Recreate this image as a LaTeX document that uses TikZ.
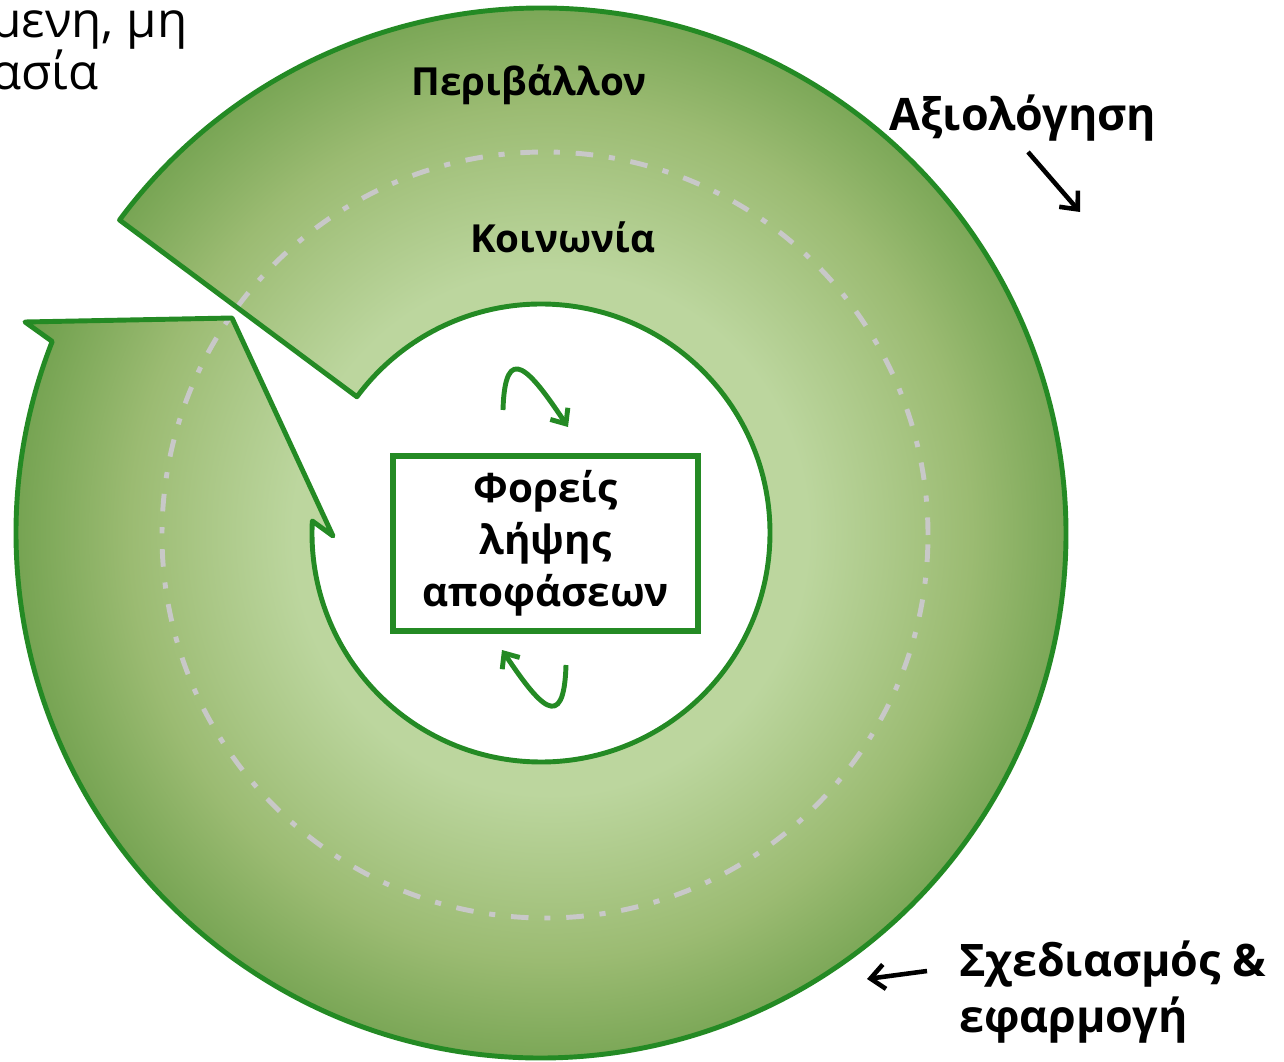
\documentclass[tikz,border=0pt]{standalone}
\usepackage{fontspec}
\setmainfont{Open Sans}
\usetikzlibrary{arrows.meta,positioning}

\definecolor{ringgreen}{HTML}{248A24}
\definecolor{ringlight}{HTML}{BCD69E}
\definecolor{ringmid}{HTML}{9BBB72}
\definecolor{ringdark}{HTML}{659944}
\definecolor{dashgray}{HTML}{C8C8C8}

% 25bp is the edge of the path's bounding box
\pgfdeclareradialshading{ringshade}{\pgfpoint{0bp}{0bp}}{color(0bp)=(ringlight); color(11bp)=(ringlight); color(18bp)=(ringmid); color(25bp)=(ringdark); color(50bp)=(ringdark)}

% the cycle arrow: outer arc, head, inner arc back to the tail
\newcommand{\ringpath}{(143.4:525) arc[start angle=143.4, end angle=-201.4, radius=525]
  -- (-516,211) -- (-309,215) -- (-208,-3) -- (-183:229)
  arc[start angle=-183, end angle=143.5, radius=229] -- cycle}

\tikzset{
  ring/.style={draw=ringgreen, line width=2.8pt, line join=round},
  dashring/.style={draw=dashgray, line width=2.8pt, dash pattern=on 10pt off 9pt on 3.5pt off 9pt},
  lbl/.style={font=\fontsize{22}{26}\selectfont\bfseries},
  outlbl/.style={font=\fontsize{25.5}{31.5}\selectfont\bfseries},
  toplbl/.style={font=\fontsize{28}{30}\selectfont, align=left, anchor=base west},
  boxnode/.style={draw=ringgreen, fill=white, line width=3.4pt, minimum width=6.1cm, minimum height=3.5cm,
    align=center, font=\fontsize{23}{29.5}\selectfont\bfseries},
  blackarrow/.style={-{Straight Barb[length=8pt,width=14pt]}, line width=2.6pt},
  greenarrow/.style={-{Straight Barb[length=7pt,width=12pt]}, draw=ringgreen, line width=2.8pt}
}

\begin{document}
\begin{tikzpicture}[x=0.02cm, y=0.02cm]
  \useasboundingbox (-541,-528) rectangle (743,533);

  \shade[shading=ringshade] \ringpath;
  \begin{scope}
    \clip \ringpath;
    \draw[dashring] (4,-2) circle[radius=383];
  \end{scope}
  \draw[ring] \ringpath;

  \node[lbl] (env) at (-12,448) {Περιβάλλον};
  \node[lbl] (soc) at (22,296) {Κοινωνία};
  \node[boxnode] (dm) at (4.5,-10.5) {Φορείς\\λήψης\\αποφάσεων};

  \node[outlbl] (eval) at (482,415) {Αξιολόγηση};
  \node[outlbl, anchor=west, align=left] (plan) at (412,-459) {Σχεδιασμός \&\\εφαρμογή};
  \node[toplbl] (cont) at (-556,443) {μενη, μη\\ασία};

  % small loops round the box
  \coordinate (upA) at (-38,123);
  \coordinate (upB) at (27,106);
  \coordinate (lowA) at (25,-132);
  \coordinate (lowB) at (-39,-117);
  \draw[greenarrow] (upA) .. controls (-36,193) and (-11,163) .. (upB);
  \draw[greenarrow] (lowA) .. controls (23,-202) and (-2,-172) .. (lowB);

  % pointers from the outer labels
  \coordinate (evalA) at (487,381);
  \coordinate (evalB) at (539,321);
  \coordinate (planA) at (386,-438);
  \coordinate (planB) at (326,-446);
  \draw[blackarrow] (evalA) -- (evalB);
  \draw[blackarrow] (planA) -- (planB);
\end{tikzpicture}
\end{document}
